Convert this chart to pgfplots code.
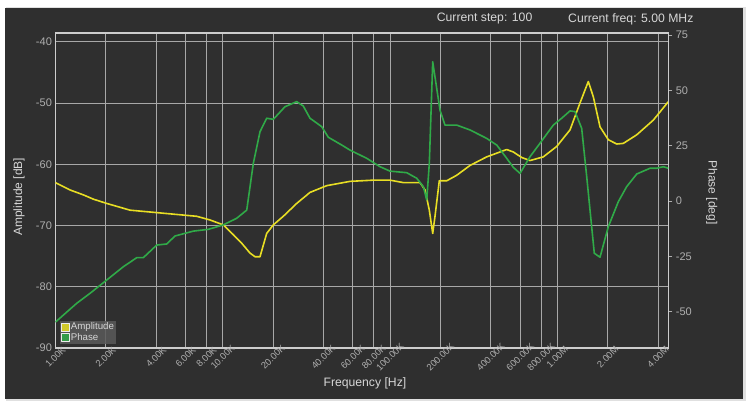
\documentclass[border=0pt]{standalone}
\usepackage{pgfplots}
\pgfplotsset{compat=1.18}
\usepackage{fontspec}
\setmainfont{Liberation Sans}
\definecolor{bg}{RGB}{47,47,47}
\definecolor{gridc}{RGB}{168,168,168}
\definecolor{framec}{RGB}{205,205,205}
\definecolor{tickc}{RGB}{175,175,175}
\definecolor{labc}{RGB}{215,215,215}
\definecolor{ampc}{RGB}{232,222,36}
\definecolor{phc}{RGB}{48,170,72}
\definecolor{legc}{RGB}{90,90,90}

\pgfplotstableread{
f a
1000 -63.0
1223 -64.2
1468 -65.0
1685 -65.7
2026 -66.4
2792 -67.5
4033 -67.9
5814 -68.3
6993 -68.5
8398 -69.1
10080 -69.9
11570 -71.5
12990 -72.9
14560 -74.5
15600 -75.1
16710 -75.1
18320 -71.3
20070 -69.9
23020 -68.5
27690 -66.4
33250 -64.6
41840 -63.5
57670 -62.8
79480 -62.6
100000 -62.6
120100 -63.0
151100 -63.0
161900 -64.2
171800 -67.5
180000 -71.3
185800 -68.5
197100 -62.7
218300 -62.7
250500 -61.8
300800 -60.2
378400 -58.8
454400 -58.0
498300 -57.6
545800 -58.0
612700 -58.9
686800 -59.4
824800 -58.8
991800 -57.1
1191000 -54.4
1367000 -50.0
1532000 -46.5
1642000 -49.0
1800000 -53.9
2018000 -56.0
2265000 -56.7
2480000 -56.6
2983000 -55.2
3749000 -52.8
4608000 -49.8
}\amptable

\pgfplotstableread{
f p
1000 -54.7
1341 -46.2
1610 -41.7
2026 -35.7
2546 -29.7
3062 -25.6
3353 -25.6
4033 -19.9
4627 -19.4
5187 -15.8
5952 -14.6
6673 -13.6
8203 -12.8
10080 -10.8
12120 -7.8
13920 -4.1
15240 17.0
16710 31.3
18320 37.4
20070 36.9
23570 42.6
27690 44.9
30320 42.9
33250 37.4
39070 33.6
42780 28.8
51440 25.3
57670 23.0
72570 19.3
87140 15.5
100000 13.5
125800 12.8
144400 10.3
158200 6.5
165800 0.5
171800 17.0
180000 62.9
199000 41.1
213200 34.3
250500 34.3
300800 32.1
378400 28.3
434300 25.3
498300 19.3
545800 15.2
598600 12.5
686800 20.0
788200 26.1
946400 34.3
1062000 37.4
1191000 40.7
1276000 40.4
1399000 32.8
1499000 11.0
1664000 -23.6
1800000 -25.4
2018000 -11.6
2316000 -0.3
2599000 6.5
2983000 12.2
3583000 14.8
3929000 14.8
4302000 15.5
4608000 14.8
}\phtable

\begin{document}
\begin{tikzpicture}[x=1pt,y=1pt]
\fill[white] (0,0) rectangle (750,408);
\fill[black!12] (6,7) rectangle (746,401);
\fill[bg] (5,9) rectangle (743,400);
\node[anchor=west, inner sep=0pt, text=labc, font=\fontsize{12.2}{14}\selectfont] at (436.7,389) {Current step: 100};
\node[anchor=west, inner sep=0pt, text=labc, font=\fontsize{12.2}{14}\selectfont] at (568,389) {Current freq: 5.00 MHz};

\begin{axis}[
  at={(55.4pt,60pt)}, anchor=south west,
  scale only axis, width=612.9pt, height=315pt,
  xmode=log, log basis x=10,
  xmin=1000, xmax=4.608e6, ymin=-90, ymax=-38.58,
  xtick={1000,2000,4000,6000,8000,10000,20000,40000,60000,80000,100000,200000,400000,600000,800000,1000000,2000000,4000000},
  xticklabels={1.00K,2.00K,4.00K,6.00K,8.00K,10.00K,20.00K,40.00K,60.00K,80.00K,100.00K,200.00K,400.00K,600.00K,800.00K,1.00M,2.00M,4.00M},
  minor xtick={},
  ytick={-90,-80,-70,-60,-50,-40},
  xtick pos=bottom, ytick pos=left,
  tick style={draw=none},
  grid=major,
  major grid style={draw=gridc, line width=0.8pt},
  axis line style={draw=framec, line width=1.4pt},
  /pgf/number format/assume math mode=true,
  yticklabel style={text=tickc, font=\fontsize{11}{13}\selectfont},
  xticklabel style={text=tickc, font=\fontsize{9.3}{11}\selectfont, yshift=-9pt, rotate=45, anchor=center, inner sep=0pt},
  xlabel={Frequency [Hz]}, ylabel={Amplitude [dB]},
  every axis x label/.style={at={(axis description cs:0.505,-0.111)}, anchor=center, text=labc, font=\fontsize{12.2}{14}\selectfont},
  every axis y label/.style={at={(axis description cs:-0.0594,0.48)}, anchor=center, rotate=90, text=labc, font=\fontsize{12}{14}\selectfont},
]
\addplot[color=ampc, line width=1.6pt, line join=round] table[x=f, y=a] {\amptable};
\end{axis}

\begin{axis}[
  at={(55.4pt,60pt)}, anchor=south west,
  scale only axis, width=612.9pt, height=315pt,
  xmode=log, log basis x=10,
  xmin=1000, xmax=4.608e6, ymin=-66.4, ymax=75.9,
  axis x line=none, axis y line*=right,
  ytick={-50,-25,0,25,50,75},
  tick align=outside, major tick length=4pt,
  ytick style={draw=tickc, line width=0.8pt},
  y axis line style={draw=framec, line width=1.4pt},
  /pgf/number format/assume math mode=true,
  yticklabel style={text=tickc, font=\fontsize{11}{13}\selectfont},
  ylabel={Phase [deg]},
  every axis y label/.style={at={(axis description cs:1.0708,0.4937)}, anchor=center, rotate=-90, text=labc, font=\fontsize{12}{14}\selectfont},
  legend style={at={(axis description cs:0.0075,0.0127)}, anchor=south west,
    fill=legc, fill opacity=0.85, text opacity=1, draw=none,
    text=labc, font=\fontsize{9.7}{11}\selectfont,
    inner xsep=1pt, inner ysep=1pt, row sep=0pt,
    nodes={inner sep=1pt}},
  legend cell align=left,
]
\addlegendimage{legend image code/.code={\draw[fill=ampc, draw=white!85!gray, line width=0.6pt] (0pt,-4pt) rectangle (8pt,4pt);}}
\addlegendentry{Amplitude}
\addplot[color=phc, line width=1.6pt, line join=round,
  legend image code/.code={\draw[fill=phc, draw=white!85!gray, line width=0.6pt] (0pt,-4pt) rectangle (8pt,4pt);}] table[x=f, y=p] {\phtable};
\addlegendentry{Phase}
\end{axis}
\end{tikzpicture}
\end{document}
